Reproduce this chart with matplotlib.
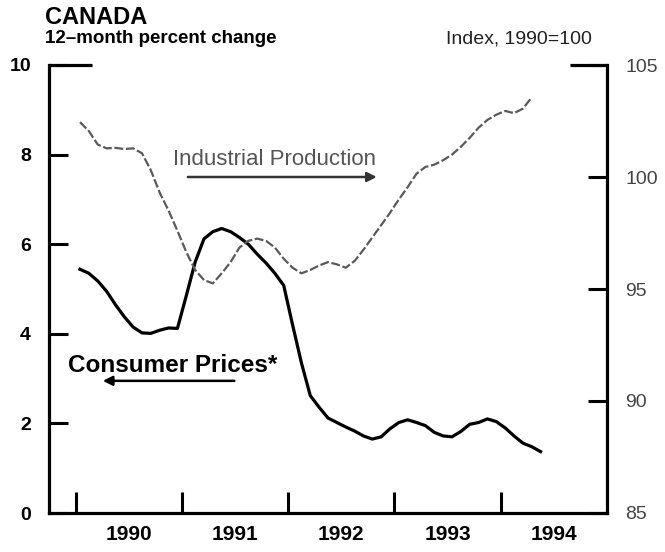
import matplotlib
matplotlib.use("Agg")
import matplotlib.pyplot as plt
import numpy as np

plt.rcParams['font.family'] = ['Liberation Sans', 'DejaVu Sans']

# monthly data, Jan 1990 onwards
start_year = 1990
cpi = [5.44, 5.35, 5.18, 4.95, 4.65, 4.38, 4.15, 4.02, 4.01, 4.08, 4.13, 4.12,
       4.85, 5.60, 6.12, 6.28, 6.35, 6.28, 6.15, 6.00, 5.78, 5.58, 5.35, 5.08,
       4.20, 3.35, 2.62, 2.36, 2.12, 2.02, 1.92, 1.83, 1.72, 1.65, 1.70, 1.88,
       2.02, 2.08, 2.02, 1.95, 1.80, 1.72, 1.70, 1.82, 1.98, 2.02, 2.10, 2.04,
       1.90, 1.72, 1.56, 1.48, 1.37]
ind_prod = [102.45, 102.05, 101.45, 101.28, 101.30, 101.25, 101.28, 101.06, 100.30, 99.30, 98.50, 97.60,
            96.65, 95.85, 95.40, 95.25, 95.70, 96.20, 96.85, 97.15, 97.25, 97.15, 96.85, 96.35,
            95.95, 95.70, 95.85, 96.05, 96.20, 96.10, 95.95, 96.25, 96.75, 97.30, 97.85, 98.40,
            99.00, 99.55, 100.15, 100.45, 100.55, 100.75, 101.00, 101.35, 101.75, 102.20, 102.55, 102.78,
            102.95, 102.85, 103.05, 103.55]
years = [1990, 1991, 1992, 1993, 1994]
left_ticks = [0, 2, 4, 6, 8, 10]
right_ticks = [85, 90, 95, 100, 105]

t_cpi = start_year + (np.arange(len(cpi)) + 0.5) / 12
t_ip = start_year + (np.arange(len(ind_prod)) + 0.5) / 12

fig = plt.figure(figsize=(6.65, 5.52), dpi=100)
ax = fig.add_axes([49/665, 1 - 513/552, 558/665, 448/552])
ax2 = ax.twinx()

ax.plot(t_cpi, cpi, color='black', linewidth=2.3, solid_joinstyle='round', zorder=3)
ax2.plot(t_ip, ind_prod, color='#5a5a5a', linewidth=1.6, linestyle=(0, (4, 1.2)))

ax.set_xlim(1989.75, 1995.0)
ax.set_ylim(0, 10)
ax2.set_ylim(85, 105)

ax.set_xticks(years)
ax.set_xticklabels([])
ax.set_xticks([y + 0.5 for y in years], minor=True)
ax.set_xticklabels([str(y) for y in years], minor=True, fontsize=15, fontweight='bold')
ax.tick_params(axis='x', which='major', direction='in', length=15, width=2.2)
ax.tick_params(axis='x', which='minor', length=0, pad=9)

ax.set_yticks(left_ticks)
ax.set_yticklabels([str(v) for v in left_ticks], fontsize=14, fontweight='bold')
ax.tick_params(axis='y', direction='in', length=14, width=2.2, pad=13)
ax2.set_yticks(right_ticks)
ax2.set_yticklabels([str(v) for v in right_ticks], fontsize=14, color='#444444')
ax2.tick_params(axis='y', direction='in', length=14, width=2.2, pad=13)

for a in (ax, ax2):
    a.spines['top'].set_visible(False)
    for s in ('left', 'right', 'bottom'):
        a.spines[s].set_linewidth(2.3)
ax.spines['right'].set_visible(False)
ax2.spines['left'].set_visible(False)
ax2.spines['bottom'].set_visible(False)

# short caps at the top of both side axes
ax.plot([0, 0.077], [1, 1], transform=ax.transAxes, color='black', lw=2.3, clip_on=False, solid_capstyle='butt')
ax.plot([0.934, 1], [1, 1], transform=ax.transAxes, color='black', lw=2.3, clip_on=False, solid_capstyle='butt')

# labels with arrows
ax.text(1990.92, 7.9, "Industrial Production", fontsize=16, color='#555555', va='center', ha='left')
ax.annotate("", xy=(1992.86, 7.5), xytext=(1991.03, 7.5),
            arrowprops=dict(arrowstyle='-|>', color='#333333', lw=1.8, mutation_scale=14))
ax.text(1989.93, 3.3, "Consumer Prices*", fontsize=17.5, fontweight='bold', va='center', ha='left')
ax.annotate("", xy=(1990.23, 2.95), xytext=(1991.52, 2.95),
            arrowprops=dict(arrowstyle='-|>', color='black', lw=1.8, mutation_scale=14))

fig.text(45/665, 1 - 6/552, "CANADA", fontsize=17, fontweight='bold', va='top', ha='left')
fig.text(45/665, 1 - 30/552, "12\u2013month percent change", fontsize=13.5, fontweight='bold', va='top', ha='left')
fig.text(592/665, 1 - 31/552, "Index, 1990=100", fontsize=14, va='top', ha='right', color='#222222')

fig.savefig("out.png", dpi=100)
